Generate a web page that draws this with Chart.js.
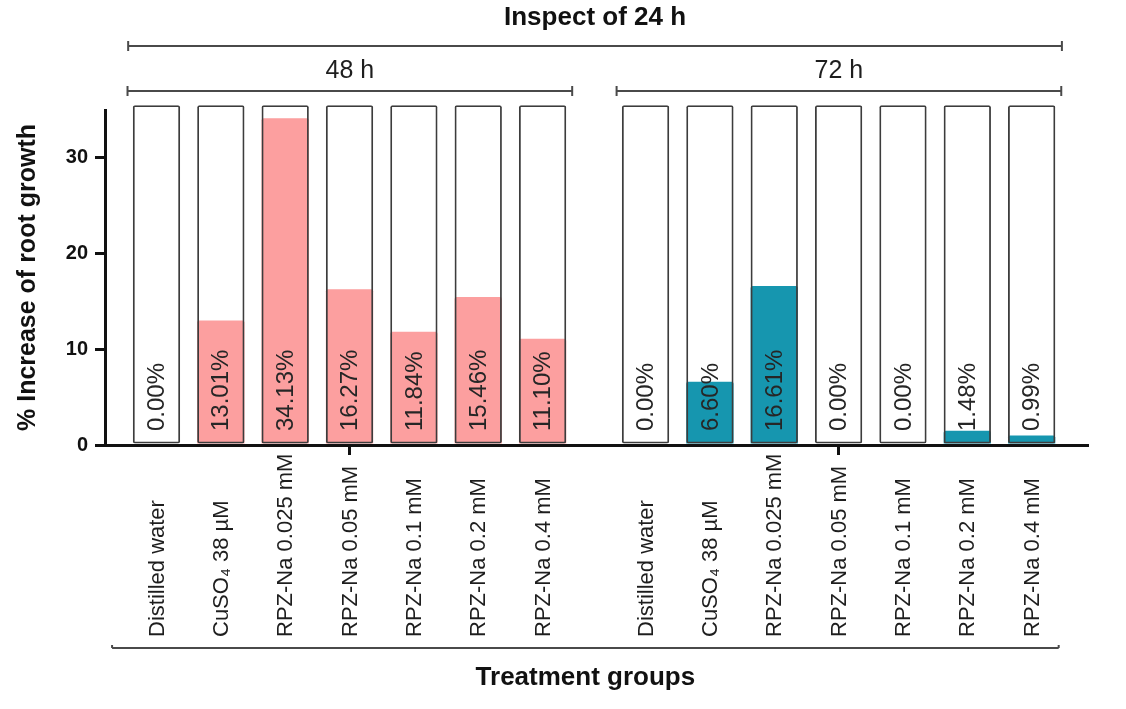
<!DOCTYPE html>
<html lang="en">
<head>
<meta charset="UTF-8">
<title>Root growth</title>
<script src="https://cdn.jsdelivr.net/npm/chart.js"></script>
<style>
  html, body { margin: 0; padding: 0; background: #fff; }
  #wrap { width: 1126px; height: 709px; position: relative; }
</style>
</head>
<body>
<div id="wrap"><canvas id="rootChart"></canvas></div>
<script>
  const treatments = ["Distilled water", "CuSO\u2084 38 \u00b5M", "RPZ-Na 0.025 mM", "RPZ-Na 0.05 mM", "RPZ-Na 0.1 mM", "RPZ-Na 0.2 mM", "RPZ-Na 0.4 mM"];
  const groupNames = ["48 h", "72 h"];
  const growth48h = [0.00, 13.01, 34.13, 16.27, 11.84, 15.46, 11.10];
  const growth72h = [0.00, 6.60, 16.61, 0.00, 0.00, 1.48, 0.99];
  const yTicks = [0, 10, 20, 30];
  const frameTop = 35.5;

  const FONT = '"Liberation Sans", Arial, Helvetica, sans-serif';
  const GROUP_GAP = 0.6; // extra space between the two groups, in bar slots
  const slot = (g, i) => g * (treatments.length + GROUP_GAP) + i;

  const seriesData = (vals, g) => vals.map((v, i) => ({ x: slot(g, i), y: v }));
  const frameData = [0, 1].flatMap(g => treatments.map((_, i) => ({ x: slot(g, i), y: frameTop })));

  const barStyle = { grouped: false, barPercentage: 0.735, categoryPercentage: 1, clip: false, borderRadius: 2 };

  function bracket(ctx, x0, x1, yy, up, down) {
    ctx.beginPath();
    ctx.moveTo(x0, yy); ctx.lineTo(x1, yy);
    ctx.moveTo(x0, yy - up); ctx.lineTo(x0, yy + down);
    ctx.moveTo(x1, yy - up); ctx.lineTo(x1, yy + down);
    ctx.stroke();
  }

  const annotate = {
    id: 'annotate',
    afterDraw(chart) {
      const { ctx, scales: { x, y }, chartArea } = chart;
      ctx.save();

      // value labels inside the bars
      ctx.fillStyle = '#262626';
      ctx.font = '24px ' + FONT;
      ctx.textAlign = 'left';
      ctx.textBaseline = 'middle';
      [growth48h, growth72h].forEach((vals, g) => vals.forEach((v, i) => {
        ctx.save();
        ctx.translate(x.getPixelForValue(slot(g, i)), y.getPixelForValue(0) - 14);
        ctx.rotate(-Math.PI / 2);
        ctx.fillText(v.toFixed(2) + '%', 0, 1);
        ctx.restore();
      }));

      // treatment names under the axis
      ctx.fillStyle = '#1e1e1e';
      ctx.font = '22px ' + FONT;
      groupNames.forEach((_, g) => treatments.forEach((t, i) => {
        ctx.save();
        ctx.translate(x.getPixelForValue(slot(g, i)), chartArea.bottom + 192);
        ctx.rotate(-Math.PI / 2);
        ctx.fillText(t, 0, 1);
        ctx.restore();
      }));

      // brackets
      ctx.strokeStyle = '#4a4a4a';
      ctx.lineWidth = 2;
      const last = treatments.length - 1;
      const topL = x.getPixelForValue(slot(0, 0) - 0.44);
      const topR = x.getPixelForValue(slot(1, last) + 0.47);
      bracket(ctx, topL, topR, 46, 5, 5);
      groupNames.forEach((name, g) => {
        const l = x.getPixelForValue(slot(g, 0) - 0.45);
        const r = x.getPixelForValue(slot(g, last) + 0.46);
        bracket(ctx, l, r, 91, 5, 5);
        ctx.fillStyle = '#1e1e1e';
        ctx.font = '25px ' + FONT;
        ctx.textAlign = 'center';
        ctx.fillText(name, (l + r) / 2, 71);
      });
      const botL = x.getPixelForValue(slot(0, 0) - 0.69);
      const botR = x.getPixelForValue(slot(1, last) + 0.42);
      bracket(ctx, botL, botR, 648, 3, 0);

      ctx.fillStyle = '#111';
      ctx.font = 'bold 26px ' + FONT;
      ctx.textAlign = 'center';
      ctx.fillText('Inspect of 24 h', (topL + topR) / 2, 18);
      ctx.fillText('Treatment groups', (botL + botR) / 2, 678);
      ctx.restore();
    }
  };

  new Chart(document.getElementById('rootChart'), {
    type: 'bar',
    data: {
      datasets: [
        { label: '48 h', data: seriesData(growth48h, 0), backgroundColor: '#FC9F9F', borderWidth: 0, order: 2, ...barStyle },
        { label: '72 h', data: seriesData(growth72h, 1), backgroundColor: '#1696AF', borderWidth: 0, order: 2, ...barStyle },
        { label: 'frame', data: frameData, backgroundColor: 'rgba(0,0,0,0)', borderColor: '#3c3c3c', borderWidth: 1.8, borderSkipped: false, order: 1, ...barStyle }
      ]
    },
    options: {
      responsive: true,
      maintainAspectRatio: false,
      animation: false,
      layout: { padding: { top: 110, right: 39, left: 0, bottom: 0 } },
      plugins: { legend: { display: false }, tooltip: { enabled: false } },
      scales: {
        x: {
          type: 'linear',
          offset: false,
          min: -0.8,
          max: 14.46,
          afterBuildTicks: s => { s.ticks = groupNames.map((_, g) => ({ value: slot(g, 3) })); },
          ticks: { display: false },
          grid: { offset: false, drawOnChartArea: false, drawTicks: true, tickLength: 10, lineWidth: 3, color: '#111' },
          border: { color: '#111', width: 3 },
          afterFit: s => { s.height = 264; }
        },
        y: {
          min: 0,
          max: 35,
          afterBuildTicks: s => { s.ticks = yTicks.map(v => ({ value: v })); },
          ticks: { font: { family: FONT, size: 20, weight: 'bold' }, color: '#111', padding: 7 },
          grid: { drawOnChartArea: false, tickLength: 10, lineWidth: 3, color: '#111' },
          border: { color: '#111', width: 3 },
          title: {
            display: true,
            text: '% Increase of root growth',
            font: { family: FONT, size: 25, weight: 'bold' },
            color: '#111',
            padding: { top: 13, bottom: 0 }
          },
          afterFit: s => { s.width = 105; }
        }
      }
    },
    plugins: [annotate]
  });
</script>
</body>
</html>
